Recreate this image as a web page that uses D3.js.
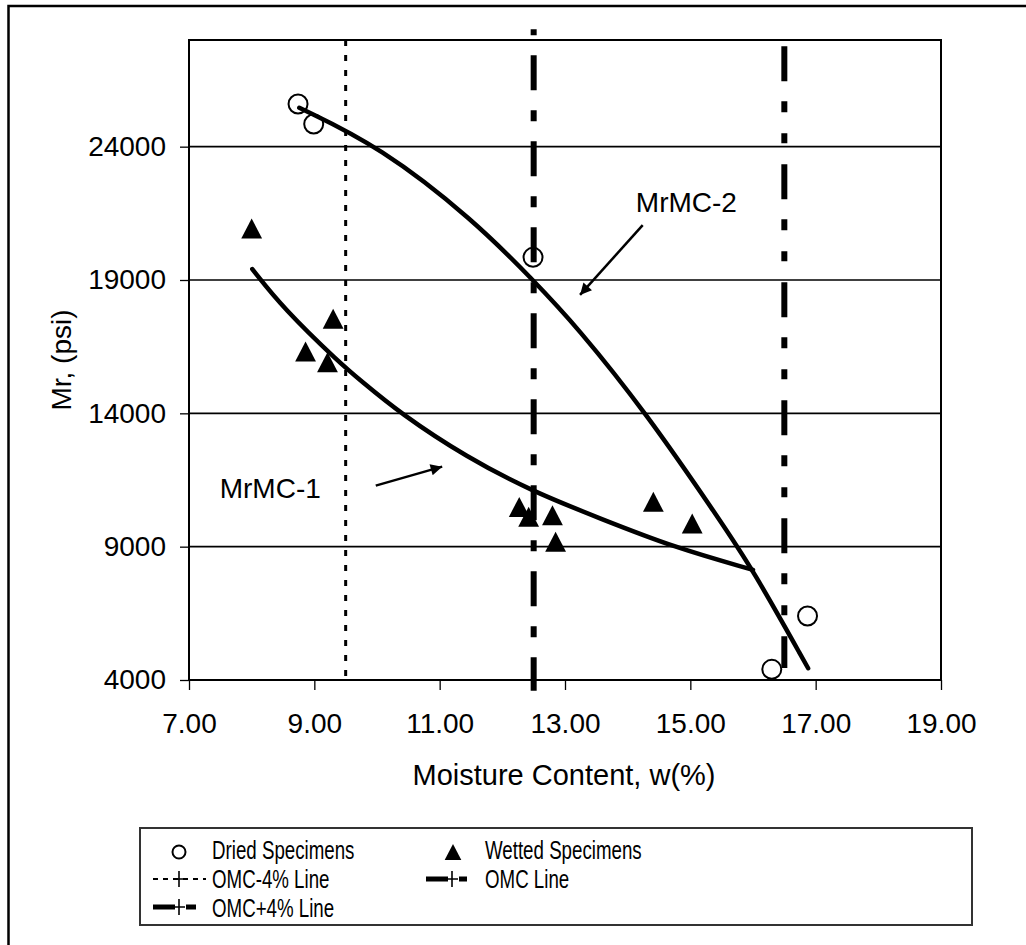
<!DOCTYPE html>
<html>
<head>
<meta charset="utf-8">
<script src="https://cdn.jsdelivr.net/npm/d3@7"></script>
<style>
  html, body { margin: 0; padding: 0; background: #fff; }
  svg { display: block; font-family: "Liberation Sans", Arial, sans-serif; }
</style>
</head>
<body>
<script>
// ---- data -------------------------------------------------------------
// Dried specimens: moisture content (%) and resilient modulus (psi)
const driedW  = [8.74, 8.99, 12.49, 16.30, 16.87];
const driedMr = [25600, 24850, 19850, 4400, 6400];

// Wetted specimens
const wettedW  = [8.00, 9.30, 8.86, 9.21, 12.27, 12.42, 12.80, 12.85, 14.41, 15.03];
const wettedMr = [20930, 17550, 16320, 15920, 10490, 10120, 10180, 9180, 10680, 9870];

// Trend curve MrMC-1 (wetted)
const mc1W  = [8.01, 8.50, 9.41, 9.73, 10.37, 11.43, 12.50, 13.56, 14.73, 16.00];
const mc1Mr = [19410, 17950, 15880, 15250, 14000, 12350, 11050, 10060, 8980, 8130];

// Trend curve MrMC-2 (dried)
const mc2W  = [8.76, 10.05, 11.54, 12.49, 13.19, 14.30, 15.47, 16.00, 16.88];
const mc2Mr = [25460, 24000, 21250, 19000, 17250, 14000, 10000, 8130, 4440];

// Reference moisture lines
const omcNames  = ["OMC-4% Line", "OMC Line", "OMC+4% Line"];
const omcW      = [9.5, 12.5, 16.5];
const omcTop    = [28000, 28400, 28400];
const omcBottom = [4000, 3600, 4450];

// Axis ticks
const xTicks = [7, 9, 11, 13, 15, 17, 19];
const yTicks = [4000, 9000, 14000, 19000, 24000];

// Curve labels: text anchor, arrow tail, arrow tip (data units)
const curveLabels = ["MrMC-2", "MrMC-1"];
const labelW   = [14.13, 7.49];
const labelMr  = [21550, 10830];
const tailW    = [14.24, 9.98];
const tailMr   = [21060, 11290];
const tipW     = [13.24, 11.04];
const tipMr    = [18440, 12000];

// ---- layout -----------------------------------------------------------
const W = 1026, H = 945;
const plot = { left: 189, top: 40, right: 941, bottom: 680 };

const svg = d3.select("body").append("svg")
  .attr("width", W).attr("height", H);

svg.append("rect").attr("width", W).attr("height", H).attr("fill", "#fff");

// outer chart border (runs off the right and bottom edges)
svg.append("rect")
  .attr("x", 8.5).attr("y", 6).attr("width", 1100).attr("height", 1100)
  .attr("fill", "none").attr("stroke", "#000").attr("stroke-width", 2.5);

const x = d3.scaleLinear().domain([7, 19]).range([plot.left, plot.right]);
const y = d3.scaleLinear().domain([4000, 28000]).range([plot.bottom, plot.top]);

// gridlines
svg.append("g").selectAll("line").data(yTicks.slice(1)).join("line")
  .attr("x1", plot.left).attr("x2", plot.right)
  .attr("y1", d => y(d)).attr("y2", d => y(d))
  .attr("stroke", "#000").attr("stroke-width", 1.6);

// plot frame
svg.append("rect")
  .attr("x", plot.left).attr("y", plot.top)
  .attr("width", plot.right - plot.left).attr("height", plot.bottom - plot.top)
  .attr("fill", "none").attr("stroke", "#000").attr("stroke-width", 2);

// axes
const yAxis = svg.append("g")
  .attr("transform", `translate(${plot.left},0)`)
  .call(d3.axisLeft(y).tickValues(yTicks).tickFormat(d3.format("d"))
        .tickSize(9).tickPadding(14));
const xAxis = svg.append("g")
  .attr("transform", `translate(0,${plot.bottom})`)
  .call(d3.axisBottom(x).tickValues(xTicks).tickFormat(d3.format(".2f"))
        .tickSize(10).tickPadding(23));
[yAxis, xAxis].forEach(g => {
  g.select(".domain").remove();
  g.selectAll(".tick line").attr("stroke", "#000").attr("stroke-width", 1.3);
  g.selectAll(".tick text").attr("fill", "#000")
    .style("font-family", '"Liberation Sans", Arial, sans-serif')
    .style("font-size", "28px");
});

// axis titles
svg.append("text")
  .attr("x", 564).attr("y", 785).attr("text-anchor", "middle")
  .style("font-size", "29px").text("Moisture Content, w(%)");
svg.append("text")
  .attr("transform", `translate(71,${(plot.top + plot.bottom) / 2}) rotate(-90)`)
  .attr("text-anchor", "middle")
  .style("font-size", "28px").text("Mr, (psi)");

// reference vertical lines
const omcStyle = {
  "OMC-4% Line": { width: 3, dash: "6,9", offset: 0 },
  "OMC Line":    { width: 6, dash: "35,20,11,20", offset: 60 },
  "OMC+4% Line": { width: 6, dash: "35,20,11,21,10,21", offset: 101 }
};
const vline = d3.line().x(d => x(d[0])).y(d => y(d[1]));
omcNames.forEach((name, i) => {
  const st = omcStyle[name];
  svg.append("path")
    .attr("d", vline([[omcW[i], omcTop[i]], [omcW[i], omcBottom[i]]]))
    .attr("fill", "none").attr("stroke", "#000")
    .attr("stroke-width", st.width)
    .attr("stroke-dasharray", st.dash)
    .attr("stroke-dashoffset", st.offset);
});

// trend curves
const curve = d3.line().x(d => x(d[0])).y(d => y(d[1])).curve(d3.curveBasis);
[[mc1W, mc1Mr], [mc2W, mc2Mr]].forEach(([ws, ms]) => {
  svg.append("path")
    .attr("d", curve(ws.map((w, i) => [w, ms[i]])))
    .attr("fill", "none").attr("stroke", "#000")
    .attr("stroke-width", 4.5).attr("stroke-linecap", "round");
});

// filled triangle marker, bounding box centred on the point
const triUp = {
  draw(ctx, s) {
    const h = s / 2;
    ctx.moveTo(0, -h);
    ctx.lineTo(h * 1.04, h);
    ctx.lineTo(-h * 1.04, h);
    ctx.closePath();
  }
};

// dried specimens
svg.append("g").selectAll("circle").data(driedW).join("circle")
  .attr("cx", d => x(d)).attr("cy", (d, i) => y(driedMr[i]))
  .attr("r", 9.5).attr("fill", "none").attr("stroke", "#000").attr("stroke-width", 2);

// wetted specimens
svg.append("g").selectAll("path").data(wettedW).join("path")
  .attr("transform", (d, i) => `translate(${x(d)},${y(wettedMr[i])})`)
  .attr("d", d3.symbol(triUp, 20))
  .attr("fill", "#000");

// curve labels with arrows
const defs = svg.append("defs");
defs.append("marker")
  .attr("id", "arrowhead").attr("viewBox", "0 0 10 10")
  .attr("refX", 10).attr("refY", 5)
  .attr("markerWidth", 6.5).attr("markerHeight", 4.6)
  .attr("orient", "auto")
  .append("path").attr("d", "M0,0 L10,5 L0,10 Z").attr("fill", "#000");

curveLabels.forEach((lab, i) => {
  svg.append("text")
    .attr("x", x(labelW[i])).attr("y", y(labelMr[i]))
    .style("font-size", "28px").text(lab);
  svg.append("line")
    .attr("x1", x(tailW[i])).attr("y1", y(tailMr[i]))
    .attr("x2", x(tipW[i])).attr("y2", y(tipMr[i]))
    .attr("stroke", "#000").attr("stroke-width", 2.5)
    .attr("marker-end", "url(#arrowhead)");
});

// ---- legend -----------------------------------------------------------
const lg = svg.append("g");
lg.append("rect")
  .attr("x", 140).attr("y", 828).attr("width", 832).attr("height", 97)
  .attr("fill", "#fff").attr("stroke", "#333").attr("stroke-width", 2);

const legendText = (tx, ty, str) =>
  lg.append("text")
    .attr("transform", `translate(${tx},${ty}) scale(0.72,1)`)
    .style("font-size", "26px").text(str);

const plus = (cx, cy) =>
  lg.append("path")
    .attr("d", `M${cx - 6},${cy} H${cx + 6} M${cx},${cy - 8} V${cy + 8}`)
    .attr("stroke", "#000").attr("stroke-width", 1.6);

// row 1
lg.append("circle").attr("cx", 179).attr("cy", 852).attr("r", 6.5)
  .attr("fill", "none").attr("stroke", "#000").attr("stroke-width", 2);
legendText(212, 859, "Dried Specimens");
lg.append("path").attr("transform", "translate(453,852)")
  .attr("d", d3.symbol(triUp, 16)).attr("fill", "#000");
legendText(485, 859, "Wetted Specimens");

// row 2
lg.append("line").attr("x1", 153).attr("x2", 206).attr("y1", 879).attr("y2", 879)
  .attr("stroke", "#000").attr("stroke-width", 2.2).attr("stroke-dasharray", "5,5");
plus(179, 879);
legendText(212, 888, omcNames[0]);

lg.append("line").attr("x1", 426).attr("x2", 469).attr("y1", 879).attr("y2", 879)
  .attr("stroke", "#000").attr("stroke-width", 5).attr("stroke-dasharray", "22,11,8,4,8");
plus(452, 879);
legendText(485, 888, omcNames[1]);

// row 3
lg.append("line").attr("x1", 153).attr("x2", 196).attr("y1", 907).attr("y2", 907)
  .attr("stroke", "#000").attr("stroke-width", 5).attr("stroke-dasharray", "22,11,10");
plus(179, 907);
legendText(212, 917, omcNames[2]);
</script>
</body>
</html>
